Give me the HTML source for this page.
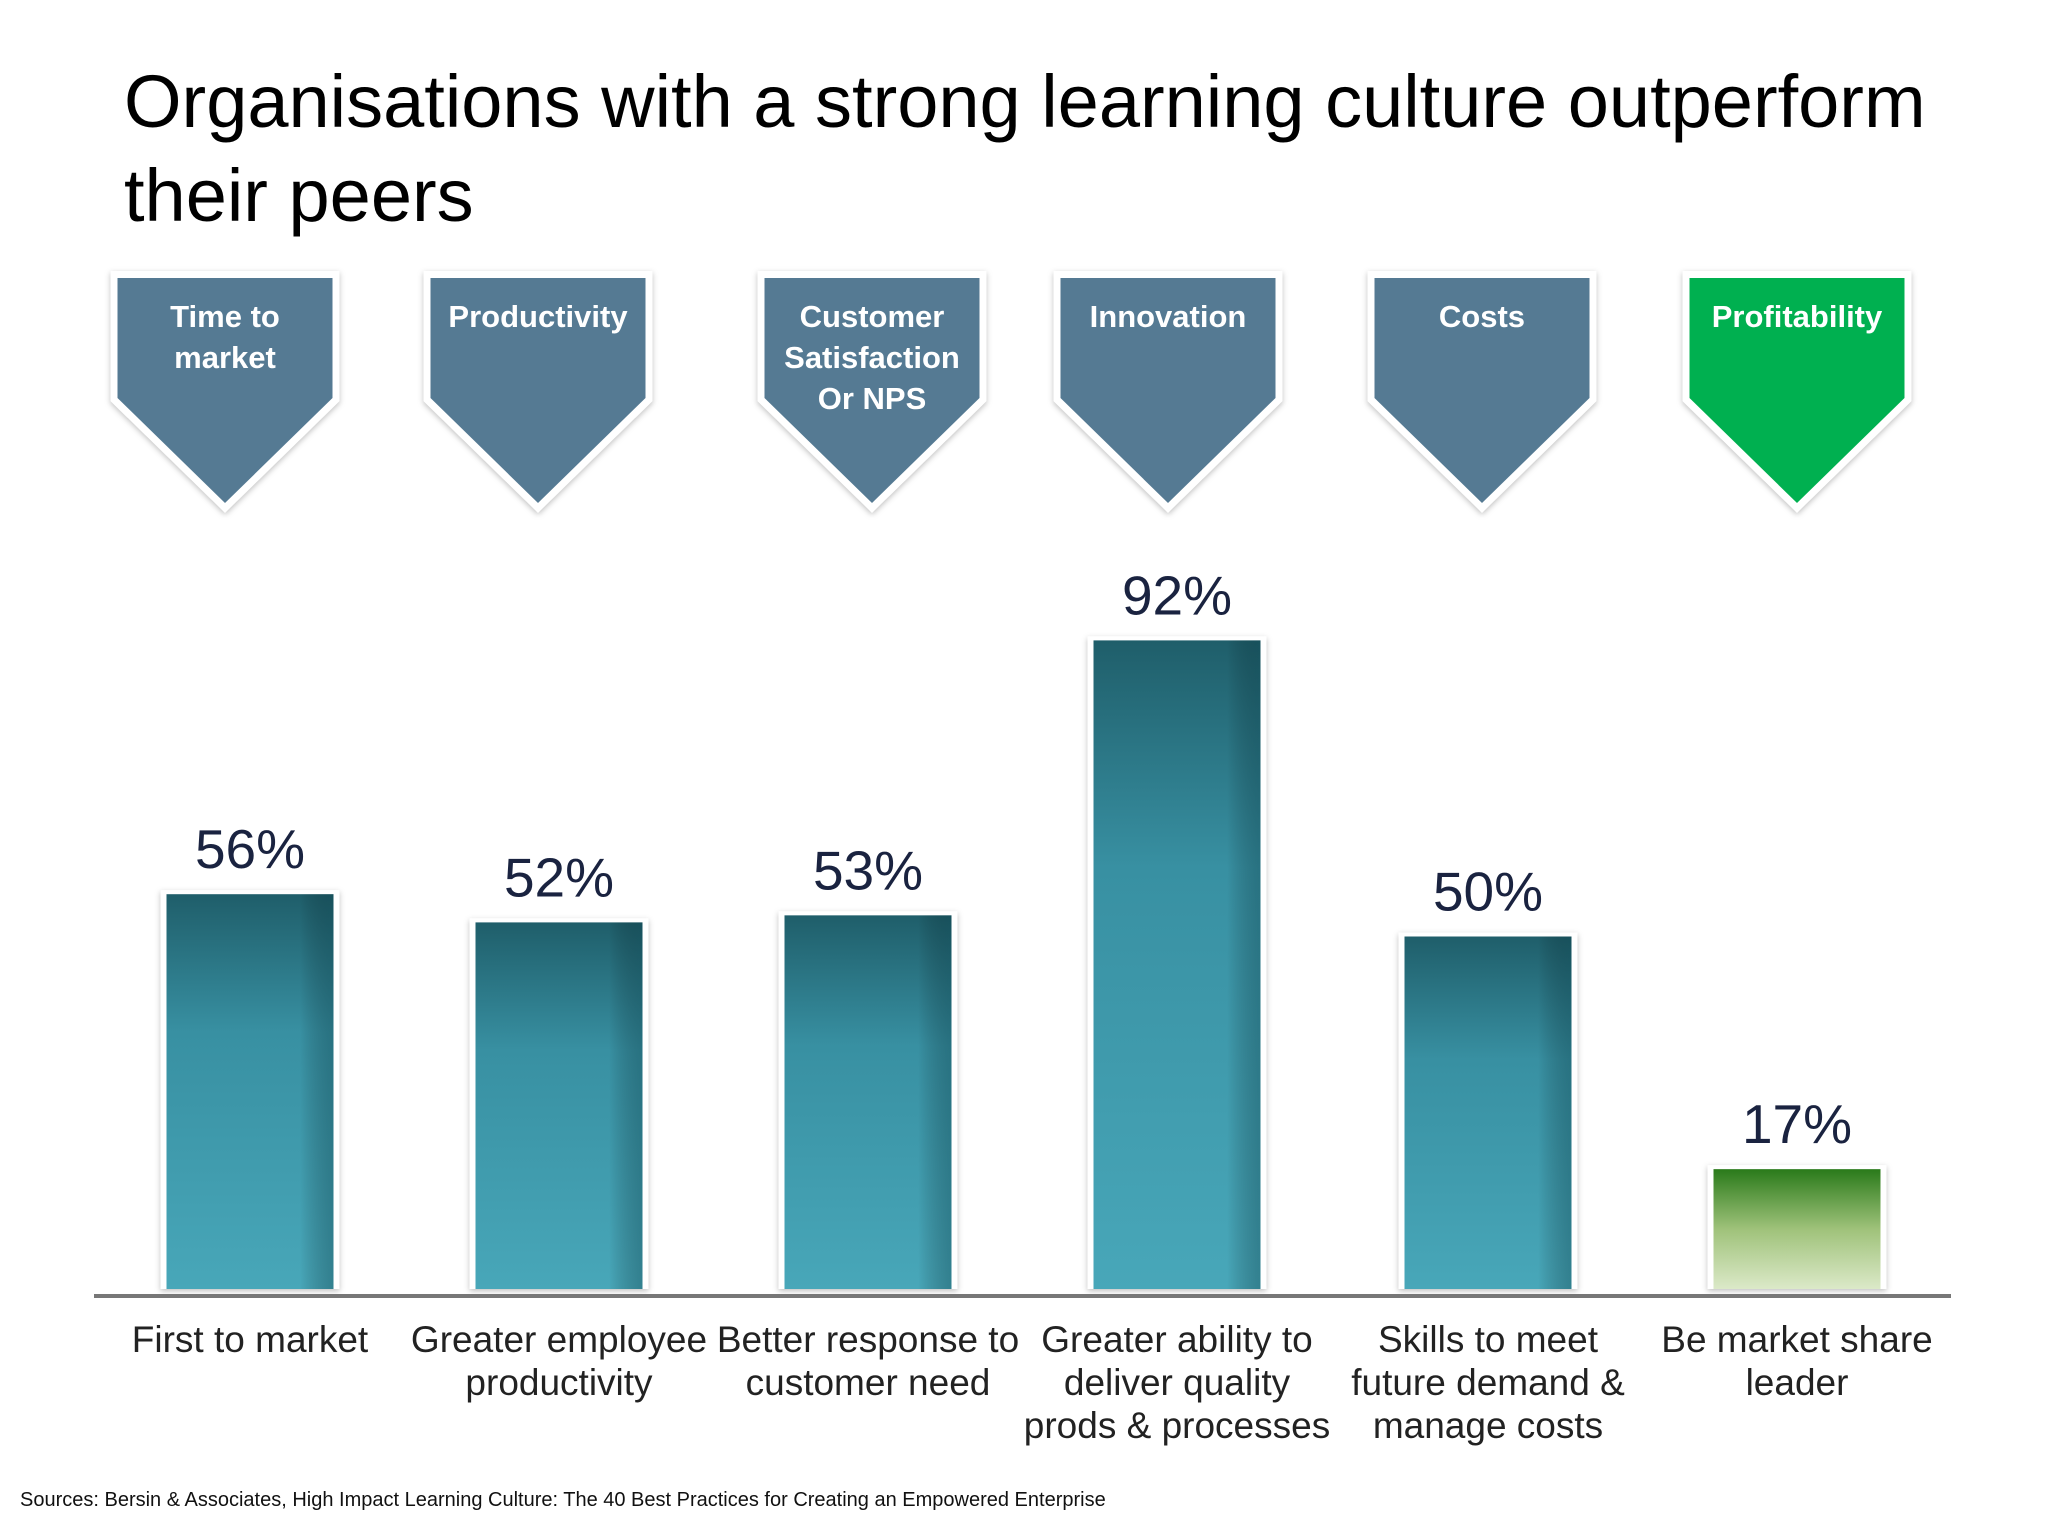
<!DOCTYPE html>
<html><head><meta charset="utf-8"><style>
body{margin:0;background:#fff;}
svg{display:block;font-family:"Liberation Sans",sans-serif;}
</style></head><body>
<svg width="2048" height="1536" viewBox="0 0 2048 1536">
<defs>
<linearGradient id="tg" x1="0" y1="0" x2="0" y2="1"><stop offset="0" stop-color="#1f5e6a"/><stop offset="0.35" stop-color="#3890a2"/><stop offset="1" stop-color="#48a7b9"/></linearGradient>
<linearGradient id="gg" x1="0" y1="0" x2="0" y2="1"><stop offset="0" stop-color="#2a7a1a"/><stop offset="0.5" stop-color="#9fc27a"/><stop offset="1" stop-color="#dbe9c8"/></linearGradient>
<linearGradient id="edge" x1="0" y1="0" x2="1" y2="0"><stop offset="0.8" stop-color="#000" stop-opacity="0"/><stop offset="1" stop-color="#0a3a44" stop-opacity="0.35"/></linearGradient>
<filter id="sh" x="-20%" y="-20%" width="140%" height="140%"><feDropShadow dx="0" dy="2" stdDeviation="3" flood-color="#000" flood-opacity="0.25"/></filter>
</defs>
<text x="124" y="127" font-size="74" fill="#000">Organisations with a strong learning culture outperform</text>
<text x="124" y="221" font-size="74" fill="#000">their peers</text>
<g id="chev"></g>
<g id="bars"></g>
<line x1="94" y1="1296" x2="1951" y2="1296" stroke="#777" stroke-width="4"/>
<text x="20" y="1506" font-size="20" fill="#111">Sources: Bersin &amp; Associates, High Impact Learning Culture: The 40 Best Practices for Creating an Empowered Enterprise</text>
</svg>
<script>
const categories=[["First to market"],["Greater employee","productivity"],["Better response to","customer need"],["Greater ability to","deliver quality","prods & processes"],["Skills to meet","future demand &","manage costs"],["Be market share","leader"]];
const values=[56,52,53,92,50,17];
const valueLabels=["56%","52%","53%","92%","50%","17%"];
const headers=[["Time to","market"],["Productivity"],["Customer","Satisfaction","Or NPS"],["Innovation"],["Costs"],["Profitability"]];
const highlight=[false,false,false,false,false,true];
const NS="http://www.w3.org/2000/svg";
const barCenters=[250,559,868,1177,1488,1797];
const chevCenters=[225,538,872,1168,1482,1797];
const baseY=1289,pxPer=7.05,barW=167;
function y(v){return baseY-v*pxPer;}
function mk(t,a,p){const e=document.createElementNS(NS,t);for(const k in a)e.setAttribute(k,a[k]);p.appendChild(e);return e;}
const cg=document.getElementById('chev'),bg=document.getElementById('bars');
headers.forEach((h,i)=>{
 const cx=chevCenters[i],w=215,t=278,s=398,tip=503;
 const pts=`${cx-w/2},${t} ${cx+w/2},${t} ${cx+w/2},${s} ${cx},${tip} ${cx-w/2},${s}`;
 const o=mk('polygon',{points:pts,fill:'#fff',stroke:'#fff','stroke-width':14,'stroke-linejoin':'miter',filter:'url(#sh)'},cg);
 
 
 const p=mk('polygon',{points:pts,fill:highlight[i]?'#00b050':'#557a93'},cg);
 
 
 h.forEach((ln,j)=>{const tx=mk('text',{x:cx,y:327+j*41,'text-anchor':'middle','font-size':31,'font-weight':'bold',fill:'#fff'},cg);tx.textContent=ln;
 
 });
});
values.forEach((v,i)=>{
 const cx=barCenters[i],top=y(v);
 const bo=mk('rect',{x:cx-barW/2-6,y:top-4,width:barW+12,height:baseY-top+4,fill:'#fff',filter:'url(#sh)'},bg);
 
 
 const r=mk('rect',{x:cx-barW/2,y:top,width:barW,height:baseY-top,fill:highlight[i]?'url(#gg)':'url(#tg)'},bg);
 
 
 if(!highlight[i]){const ed=mk('rect',{x:cx-barW/2,y:top,width:barW,height:baseY-top,fill:'url(#edge)'},bg);
 
 }
 const vl=mk('text',{x:cx,y:top-26,'text-anchor':'middle','font-size':55,fill:'#1a2340'},bg);vl.textContent=valueLabels[i];
 
 
 categories[i].forEach((ln,j)=>{const tx=mk('text',{x:cx,y:1352+j*43,'text-anchor':'middle','font-size':37,fill:'#222'},bg);tx.textContent=ln;
 
 });
});
</script>
</body></html>
